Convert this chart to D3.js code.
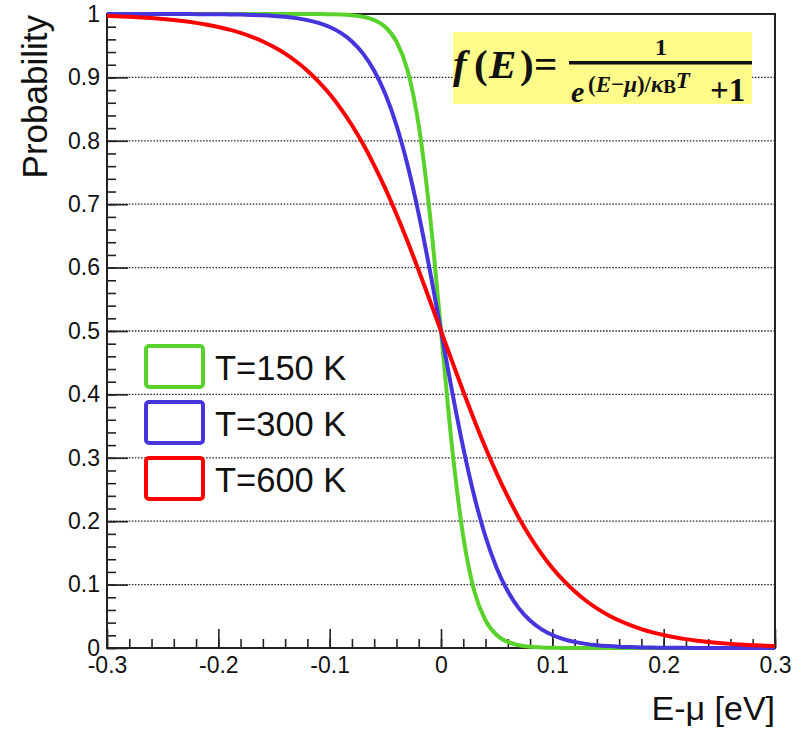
<!DOCTYPE html>
<html>
<head>
<meta charset="utf-8">
<script src="https://cdn.jsdelivr.net/npm/d3@7"></script>
<style>
  body { margin: 0; background: #fff; }
  svg { display: block; font-family: "Liberation Sans", Arial, sans-serif; }
</style>
</head>
<body>
<svg id="chart" width="803" height="730"></svg>
<script>
// E - mu in eV, one sample every 0.01
const energy = [-0.30,-0.29,-0.28,-0.27,-0.26,-0.25,-0.24,-0.23,-0.22,-0.21,
  -0.20,-0.19,-0.18,-0.17,-0.16,-0.15,-0.14,-0.13,-0.12,-0.11,
  -0.10,-0.09,-0.08,-0.07,-0.06,-0.05,-0.04,-0.03,-0.02,-0.01,
  0.00,0.01,0.02,0.03,0.04,0.05,0.06,0.07,0.08,0.09,
  0.10,0.11,0.12,0.13,0.14,0.15,0.16,0.17,0.18,0.19,
  0.20,0.21,0.22,0.23,0.24,0.25,0.26,0.27,0.28,0.29,0.30];

const prob150 = [1,1,1,1,1,1,1,1,1,1,
  1,1,1,1,1,1,1,1,1,1,
  0.9996,0.9991,0.9980,0.9956,0.9904,0.9795,0.9566,0.9110,0.8244,0.6843,
  0.5,0.3157,0.1756,0.0890,0.0434,0.0205,0.0096,0.0044,0.0020,0.0009,
  0.0004,0,0,0,0,0,0,0,0,0,
  0,0,0,0,0,0,0,0,0,0,0];

const prob300 = [1,1,1,1,1,1,0.9999,0.9999,0.9998,0.9997,
  0.9996,0.9994,0.9991,0.9986,0.9980,0.9970,0.9956,0.9935,0.9904,0.9860,
  0.9795,0.9702,0.9567,0.9375,0.9106,0.8737,0.8245,0.7614,0.6843,0.5955,
  0.5,0.4045,0.3157,0.2386,0.1755,0.1263,0.0894,0.0625,0.0433,0.0298,
  0.0205,0.0140,0.0096,0.0065,0.0044,0.0030,0.0020,0.0014,0.0009,0.0006,
  0.0004,0.0003,0.0002,0.0001,0.0001,0,0,0,0,0,0];

const prob600 = [0.9970,0.9963,0.9956,0.9946,0.9935,0.9921,0.9904,0.9884,0.9860,0.9831,
  0.9795,0.9753,0.9702,0.9640,0.9567,0.9479,0.9375,0.9251,0.9106,0.8935,
  0.8737,0.8508,0.8245,0.7948,0.7614,0.7246,0.6843,0.6411,0.5955,0.5482,
  0.5,0.4518,0.4045,0.3589,0.3157,0.2754,0.2386,0.2052,0.1755,0.1492,
  0.1263,0.1065,0.0894,0.0749,0.0625,0.0521,0.0433,0.0360,0.0298,0.0247,
  0.0205,0.0169,0.0140,0.0116,0.0096,0.0079,0.0065,0.0054,0.0044,0.0037,0.0030];

const seriesNames = ["T=150 K", "T=300 K", "T=600 K"];
const seriesColors = ["#5ad22c", "#4634dc", "#ff0000"];
const xTicks = [-0.3, -0.2, -0.1, 0, 0.1, 0.2, 0.3];
const yTicks = [0, 0.1, 0.2, 0.3, 0.4, 0.5, 0.6, 0.7, 0.8, 0.9, 1];

const svg = d3.select("#chart");
const mLeft = 107, mRight = 775, mTop = 14, mBottom = 648;

const x = d3.scaleLinear().domain([-0.3, 0.3]).range([mLeft, mRight]);
const y = d3.scaleLinear().domain([0, 1]).range([mBottom, mTop]);

const fmt = d => d === 0 ? "0" : String(+d.toFixed(1));

// grille pointillée horizontale
svg.append("g")
  .selectAll("line")
  .data(yTicks.filter(d => d > 0 && d < 1))
  .join("line")
  .attr("x1", mLeft).attr("x2", mRight)
  .attr("y1", d => y(d)).attr("y2", d => y(d))
  .attr("stroke", "#222")
  .attr("stroke-width", 1.3)
  .attr("stroke-dasharray", "1.5,1.6");

// cadre
svg.append("rect")
  .attr("x", mLeft).attr("y", mTop)
  .attr("width", mRight - mLeft).attr("height", mBottom - mTop)
  .attr("fill", "none").attr("stroke", "#222").attr("stroke-width", 2);

// axes : ticks vers l'intérieur
const minorX = d3.range(-0.3, 0.3001, 0.02);
const minorY = d3.range(0, 1.0001, 0.02);

svg.append("g").attr("transform", `translate(0,${mBottom})`)
  .call(d3.axisBottom(x).tickValues(minorX).tickSizeInner(-9).tickSizeOuter(0).tickFormat(""))
  .call(g => g.select(".domain").remove());
svg.append("g").attr("transform", `translate(0,${mBottom})`)
  .call(d3.axisBottom(x).tickValues(xTicks).tickSizeInner(-19).tickSizeOuter(0).tickPadding(9).tickFormat(fmt))
  .call(g => g.select(".domain").remove())
  .call(g => g.selectAll("text").attr("font-size", 23).attr("fill", "#111")
    .attr("font-family", "Liberation Sans, Arial, sans-serif"));

svg.append("g").attr("transform", `translate(${mLeft},0)`)
  .call(d3.axisLeft(y).tickValues(minorY).tickSizeInner(-9).tickSizeOuter(0).tickFormat(""))
  .call(g => g.select(".domain").remove());
svg.append("g").attr("transform", `translate(${mLeft},0)`)
  .call(d3.axisLeft(y).tickValues(yTicks).tickSizeInner(-21).tickSizeOuter(0).tickPadding(7).tickFormat(fmt))
  .call(g => g.select(".domain").remove())
  .call(g => g.selectAll("text").attr("font-size", 23).attr("fill", "#111")
    .attr("font-family", "Liberation Sans, Arial, sans-serif"));

svg.selectAll(".tick line").attr("stroke", "#222").attr("stroke-width", 1.6);

// courbes
const line = d3.line()
  .x((d, i) => x(energy[i]))
  .y(d => y(d))
  .curve(d3.curveMonotoneX);

[prob150, prob300, prob600].forEach((vals, k) => {
  svg.append("path")
    .attr("d", line(vals))
    .attr("fill", "none")
    .attr("stroke", seriesColors[k])
    .attr("stroke-width", 4)
    .attr("stroke-linejoin", "round");
});

// légende
const leg = svg.append("g");
seriesNames.forEach((name, k) => {
  leg.append("rect")
    .attr("x", 146).attr("y", 346 + k * 56)
    .attr("width", 57).attr("height", 41)
    .attr("rx", 3)
    .attr("fill", "none")
    .attr("stroke", seriesColors[k])
    .attr("stroke-width", 4);
  leg.append("text")
    .attr("x", 215).attr("y", 380 + k * 56)
    .attr("font-size", 34.5)
    .attr("fill", "#111")
    .text(name);
});

// titres des axes
svg.append("text")
  .attr("transform", "translate(47,15) rotate(-90)")
  .attr("text-anchor", "end")
  .attr("font-size", 35)
  .attr("fill", "#111")
  .text("Probability");

svg.append("text")
  .attr("x", mRight).attr("y", 720)
  .attr("text-anchor", "end")
  .attr("font-size", 34)
  .attr("fill", "#111")
  .text("E-μ [eV]");

// formule de Fermi-Dirac
const f = svg.append("g")
  .attr("font-family", "Liberation Serif, Times New Roman, serif")
  .attr("font-weight", "bold")
  .attr("fill", "#111");

f.append("rect")
  .attr("x", 453).attr("y", 32)
  .attr("width", 299).attr("height", 72)
  .attr("fill", "#fffb8a");

const lhs = f.append("text").attr("y", 78).attr("font-size", 41);
lhs.append("tspan").attr("x", 453).attr("font-style", "italic").text("f");
lhs.append("tspan").attr("x", 474).text("(");
lhs.append("tspan").attr("x", 489).attr("font-style", "italic").text("E");
lhs.append("tspan").attr("x", 520).text(")");
lhs.append("tspan").attr("x", 534).attr("textLength", 31).text("=");

f.append("rect")
  .attr("x", 569).attr("y", 61)
  .attr("width", 183).attr("height", 3.5)
  .attr("fill", "#111");

f.append("text").attr("x", 661).attr("y", 55)
  .attr("text-anchor", "middle").attr("font-size", 24).text("1");

f.append("text").attr("x", 571).attr("y", 102)
  .attr("font-size", 30).attr("font-style", "italic").text("e");

const sup = f.append("text").attr("x", 588).attr("y", 92).attr("font-size", 23);
sup.append("tspan").text("(");
sup.append("tspan").attr("font-style", "italic").text("E");
sup.append("tspan").text("−");
sup.append("tspan").attr("font-style", "italic").text("μ");
sup.append("tspan").text(")/");
sup.append("tspan").attr("font-style", "italic").text("κ");
sup.append("tspan").attr("font-size", 19).attr("dy", 1).text("B");
sup.append("tspan").attr("font-style", "italic").attr("dy", -5).text("T");

f.append("text").attr("x", 710).attr("y", 101)
  .attr("font-size", 33).text("+1");
</script>
</body>
</html>
